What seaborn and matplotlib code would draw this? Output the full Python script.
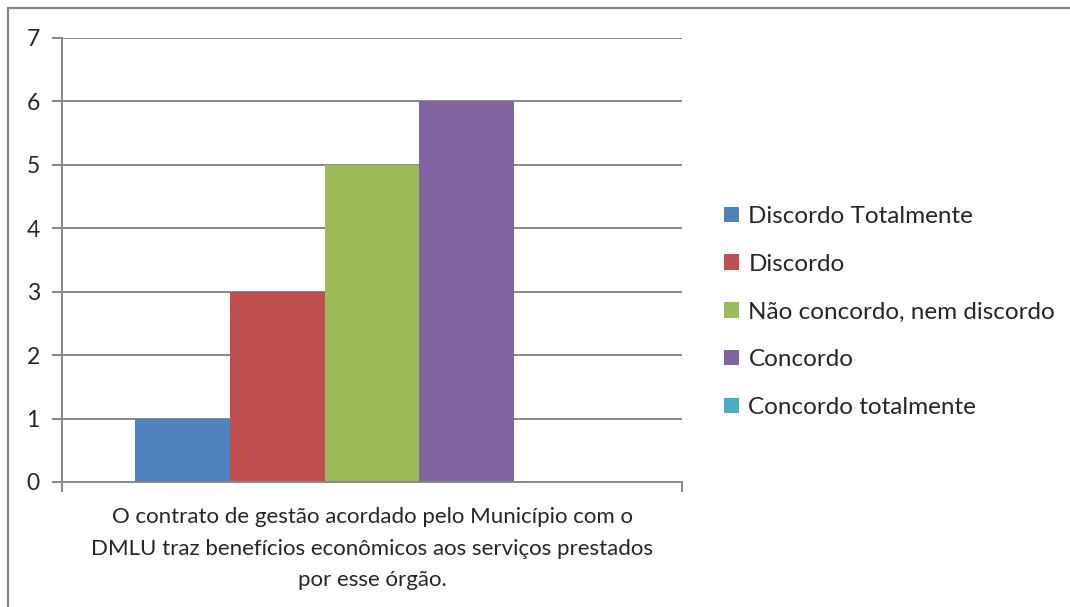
import matplotlib
matplotlib.use("Agg")
import matplotlib.pyplot as plt
from matplotlib.lines import Line2D
import seaborn as sns
import pandas as pd

categories = ["O contrato de gestão acordado pelo Município com o\nDMLU traz benefícios econômicos aos serviços prestados\npor esse órgão."]
series = ["Discordo Totalmente", "Discordo", "Não concordo, nem discordo", "Concordo", "Concordo totalmente"]
values = [1, 3, 5, 6, 0]
colors = ["#4F81BD", "#C0504D", "#9BBB59", "#8064A2", "#4BACC6"]
yticks = [0, 1, 2, 3, 4, 5, 6, 7]

df = pd.DataFrame({"cat": categories * len(series), "serie": series, "val": values})

sns.set_theme(style="white")
plt.rcParams['font.family'] = ['Lato', 'DejaVu Sans']

fig = plt.figure(figsize=(10.7, 6.07), dpi=100)
ax = fig.add_axes([62/1070, 125/607, 620/1070, 444/607])

sns.barplot(data=df, x="cat", y="val", hue="serie", hue_order=series,
            palette=colors, width=0.766, saturation=1, ax=ax, legend=True,
            linewidth=0, edgecolor="none")

grid_c = "#888888"
ax.set_ylim(0, 7)
ax.set_xlim(-0.5, 0.5)
ax.set_yticks(yticks)
ax.set_yticklabels([str(t) for t in yticks], fontsize=16.5)
ax.yaxis.grid(True, color=grid_c, linewidth=1.4)
ax.set_axisbelow(True)
for s in ["top", "right"]:
    ax.spines[s].set_visible(False)
for s in ["left", "bottom"]:
    ax.spines[s].set_color(grid_c)
    ax.spines[s].set_linewidth(1.4)
ax.tick_params(axis="y", length=7, width=1.4, color=grid_c, direction="out", pad=9, left=True)
ax.tick_params(axis="x", which="major", length=0, labelsize=16, pad=18)
ax.set_xticks([-0.5, 0.5], minor=True)
ax.tick_params(axis="x", which="minor", length=7, width=1.4, color=grid_c, direction="out", bottom=True)
for lbl in ax.get_xticklabels():
    lbl.set_linespacing(1.72)
ax.set_xlabel("")
ax.set_ylabel("")

handles, labels = ax.get_legend_handles_labels()
ax.legend(handles, labels, loc="center left", bbox_to_anchor=(1.068, 0.383),
          frameon=False, fontsize=17.5, handlelength=0.6, handleheight=0.6,
          handletextpad=0.4, labelspacing=1.1, borderaxespad=0, borderpad=0)

fig.add_artist(Line2D([8/1070, 1.0], [1 - 8/607, 1 - 8/607], color=grid_c, linewidth=1.6))
fig.add_artist(Line2D([8/1070, 8/1070], [0, 1 - 8/607], color=grid_c, linewidth=1.6))

fig.savefig("out.png", dpi=100, facecolor="white")
